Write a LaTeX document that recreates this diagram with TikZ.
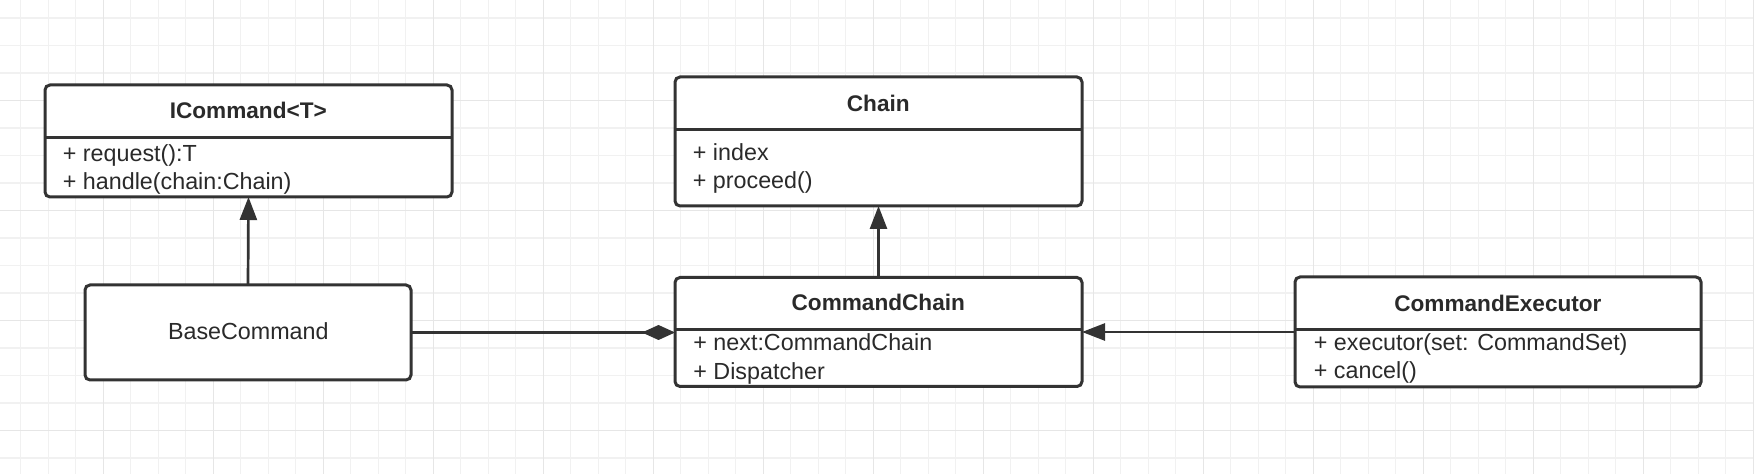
\documentclass[tikz,border=0pt]{standalone}
\usepackage{fontspec}
\setmainfont{Liberation Sans}
\usetikzlibrary{arrows.meta}
\definecolor{ink}{HTML}{333333}
\definecolor{textink}{HTML}{2A2A2A}
\definecolor{gridminor}{HTML}{F1F1F1}
\definecolor{gridmajor}{HTML}{E6E6E6}
\begin{document}
\begin{tikzpicture}[x=0.5pt,y=-0.5pt,
  box/.style={draw=ink,line width=1.5pt,rounded corners=2.5pt,fill=white,inner sep=0pt,outer sep=0pt,anchor=north west},
  divline/.style={draw=ink,line width=1.5pt},
  titletext/.style={anchor=base,inner sep=0pt,text=textink,font=\fontsize{11.3}{14}\selectfont\bfseries},
  attrtext/.style={anchor=base west,inner sep=0pt,text=textink,font=\fontsize{11.65}{14}\selectfont},
  plaintext/.style={anchor=base,inner sep=0pt,text=textink,font=\fontsize{11.65}{14}\selectfont},
  conn/.style={draw=ink,line width=1.35pt},
  inherit/.style={conn,-{Triangle[length=11.5pt,width=8.5pt]}},
  compose/.style={conn,-{Diamond[length=16.5pt,width=7.5pt]}}
]
\useasboundingbox (0,0) rectangle (1754,474);
\fill[white] (0,0) rectangle (1754,474);
% grid
\foreach \i in {1,...,64} {
  \draw[gridminor,line width=0.6pt] ({-6.8+27.5*\i},0) -- ({-6.8+27.5*\i},474);
}
\foreach \i in {1,...,18} {
  \draw[gridminor,line width=0.6pt] (0,{-9.5+27.5*\i}) -- (1754,{-9.5+27.5*\i});
}
\foreach \i in {0,...,15} {
  \draw[gridmajor,line width=0.7pt] ({103.2+110*\i},0) -- ({103.2+110*\i},474);
}
\foreach \i in {0,...,3} {
  \draw[gridmajor,line width=0.7pt] (0,{100.5+110*\i}) -- (1754,{100.5+110*\i});
}

% boxes
\node[box,minimum width=203.5pt,minimum height=56pt] (ic) at (45,85) {};
\draw[divline] ([yshift=-26.5pt]ic.north west) -- ([yshift=-26.5pt]ic.north east);
\node[box,minimum width=203.5pt,minimum height=64.5pt] (ch) at (675,77) {};
\draw[divline] ([yshift=-26.5pt]ch.north west) -- ([yshift=-26.5pt]ch.north east);
\node[box,minimum width=163pt,minimum height=47.5pt] (bc) at (85,285) {};
\node[box,minimum width=203.5pt,minimum height=54.5pt] (cc) at (675,277.5) {};
\draw[divline] ([yshift=-26.25pt]cc.north west) -- ([yshift=-26.25pt]cc.north east);
\node[box,minimum width=203pt,minimum height=55pt] (ce) at (1295,277) {};
\draw[divline] ([yshift=-26.5pt]ce.north west) -- ([yshift=-26.5pt]ce.north east);

% texts
\node[titletext] (ic-t) at (248.3,119) {ICommand<T>};
\node[attrtext] (ic-a1) at (62.5,161.7) {+ request():T};
\node[attrtext] (ic-a2) at (62.5,189.3) {+ handle(chain:Chain)};

\node[titletext] (ch-t) at (878.3,111.7) {Chain};
\node[attrtext] (ch-a1) at (692.5,160.7) {+ index};
\node[attrtext] (ch-a2) at (692.5,188.5) {+ proceed()};

\node[plaintext] (bc-t) at (248.3,339.3) {BaseCommand};

\node[titletext] (cc-t) at (878.3,310.7) {CommandChain};
\node[attrtext] (cc-a1) at (693,351) {+ next:CommandChain};
\node[attrtext] (cc-a2) at (693,379.3) {+ Dispatcher};

\node[titletext] (ce-t) at (1497.9,311.7) {CommandExecutor};
\node[attrtext] (ce-a1) at (1313.5,350.7) {+ executor(set: CommandSet)};
\node[attrtext] (ce-a2) at (1313.5,379) {+ cancel()};

% connectors
\draw[inherit] (bc.north) -- (ic.south);
\draw[inherit] (cc.north) -- (ch.south);
\draw[compose] (bc.east) -- (bc.east -| cc.west);
\draw[inherit] (ce.west) -- (ce.west -| cc.east);
\end{tikzpicture}
\end{document}
